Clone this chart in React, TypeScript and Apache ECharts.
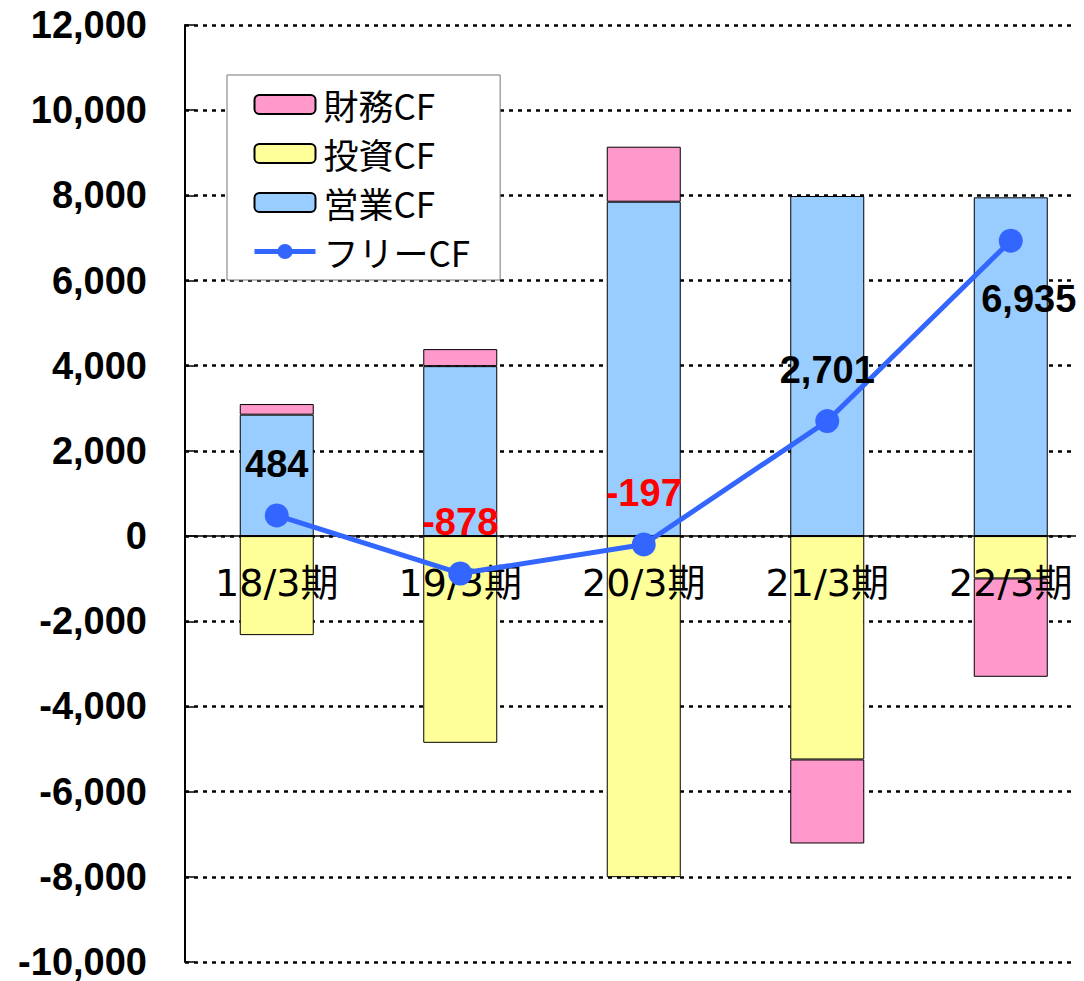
import React, { useEffect, useRef } from "react";
import * as echarts from "echarts";

const categories = ["18/3期", "19/3期", "20/3期", "21/3期", "22/3期"];
const operatingCF = [2851, 3990, 7851, 7985, 7954];
const investingCF = [-2325, -4854, -8008, -5245, -994];
const financingCF = [249, 400, 1291, -1972, -2310];
const freeCF = [484, -878, -197, 2701, 6935];
const yTicks = { min: -10000, max: 12000, interval: 2000 };

const fmt = (v: number) => v.toLocaleString("en-US");

export default function App() {
  const ref = useRef<HTMLDivElement>(null);
  useEffect(() => {
    if (!ref.current) return;
    const chart = echarts.init(ref.current, null, { renderer: "svg" });
    const numFont = "'Liberation Sans', Arial, sans-serif";
    const gridTop = 25;
    const gridBottom = 19;
    const plotH = 981 - gridTop - gridBottom;
    const zeroFromBottom = (plotH * (0 - yTicks.min)) / (yTicks.max - yTicks.min);
    const freeData = freeCF.map((v, i) => {
      const last = i === freeCF.length - 1;
      return {
        value: v,
        label: {
          color: v < 0 ? "#ff0000" : "#000000",
          position: last ? "bottom" : "top",
          distance: last ? 27 : 20,
          offset: last ? [18, 0] : [0, 0],
        },
      };
    });
    chart.setOption({
      animation: false,
      backgroundColor: "#ffffff",
      grid: {
        left: 185,
        top: gridTop,
        right: -18.5,
        bottom: gridBottom,
        containLabel: false,
        outerBoundsMode: "none",
      },
      legend: {
        orient: "vertical",
        left: 227,
        top: 75,
        data: [
          "財務CF",
          "投資CF",
          "営業CF",
          { name: "フリーCF", lineStyle: { width: 5, color: "#3366ff" } },
        ],
        backgroundColor: "#ffffff",
        borderColor: "#777777",
        borderWidth: 1,
        padding: [12, 30, 11, 25],
        itemWidth: 61,
        itemHeight: 19,
        itemGap: 14,
        textStyle: {
          fontSize: 35,
          lineHeight: 33,
          color: "#000000",
          fontFamily: "'Noto Sans CJK JP', sans-serif",
          padding: [0, 0, 0, 3],
        },
      },
      xAxis: {
        type: "category",
        data: categories,
        position: "bottom",
        offset: -zeroFromBottom,
        axisLine: { onZero: false, lineStyle: { color: "#000000", width: 1.5 } },
        axisTick: { inside: true, length: 10, lineStyle: { color: "#000000", width: 1.5 } },
        axisLabel: {
          interval: 0,
          margin: 28,
          fontSize: 38,
          color: "#000000",
          fontFamily: "'DejaVu Sans', 'Noto Sans CJK JP', sans-serif",
        },
        splitLine: { show: false },
        z: 5,
      },
      yAxis: {
        type: "value",
        min: yTicks.min,
        max: yTicks.max,
        interval: yTicks.interval,
        axisLine: { show: true, lineStyle: { color: "#000000", width: 2 } },
        axisTick: { show: true, inside: true, length: 10, lineStyle: { color: "#000000", width: 1.5 } },
        axisLabel: {
          margin: 38,
          fontSize: 38,
          fontWeight: "bold",
          color: "#000000",
          fontFamily: numFont,
          formatter: (v: number) => fmt(v),
        },
        splitLine: { show: true, lineStyle: { color: "#000000", width: 2.5, type: [4, 5] } },
      },
      series: [
        {
          name: "営業CF",
          type: "bar",
          stack: "cf",
          data: operatingCF,
          barWidth: 74,
          itemStyle: { color: "#99ccff", borderColor: "#000000", borderWidth: 1 },
        },
        {
          name: "投資CF",
          type: "bar",
          stack: "cf",
          data: investingCF,
          barWidth: 74,
          itemStyle: { color: "#ffff99", borderColor: "#000000", borderWidth: 1 },
        },
        {
          name: "財務CF",
          type: "bar",
          stack: "cf",
          data: financingCF,
          barWidth: 74,
          itemStyle: { color: "#ff99cc", borderColor: "#000000", borderWidth: 1 },
        },
        {
          name: "フリーCF",
          type: "line",
          data: freeData,
          symbol: "circle",
          symbolSize: 24,
          z: 10,
          lineStyle: { color: "#3366ff", width: 5 },
          itemStyle: { color: "#3366ff" },
          label: {
            show: true,
            fontSize: 38,
            lineHeight: 38,
            fontWeight: "bold",
            fontFamily: numFont,
            formatter: (p: any) => fmt(p.value),
          },
        },
      ],
    });
    return () => chart.dispose();
  }, []);
  return <div ref={ref} style={{ width: 1084, height: 981, marginLeft: -8, marginTop: -8 }} />;
}
